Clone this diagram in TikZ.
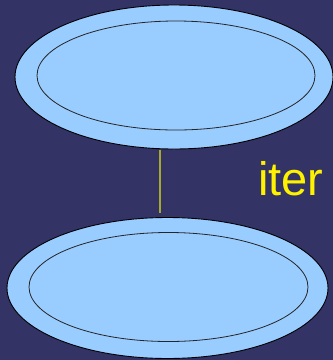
\documentclass[tikz,border=0pt]{standalone}
\usepackage{fontspec}
\setmainfont{Liberation Sans}
\usetikzlibrary{shapes.geometric}
\definecolor{bg}{HTML}{333366}
\definecolor{fillb}{HTML}{99CCFF}
\definecolor{olive}{HTML}{A8A830}
\tikzset{
  outerell/.style={ellipse, draw=black, line width=0.9pt, fill=fillb, inner sep=0pt},
  innerell/.style={ellipse, draw=black!85, line width=0.8pt, inner sep=0pt},
  conn/.style={draw=olive, line width=1.3pt},
  lbl/.style={text=yellow, font=\fontsize{47}{50}\selectfont, inner sep=0pt, anchor=base west}
}
\begin{document}
\begin{tikzpicture}[x=1pt,y=-1pt]
\fill[bg] (0,0) rectangle (333,360);
\useasboundingbox (0,0) rectangle (333,360);
\node[outerell, minimum width=318pt, minimum height=144pt] (top) at (174,77) {};
\node[innerell, minimum width=278pt, minimum height=109pt] (topin) at (176,75.5) {};
\node[outerell, minimum width=321pt, minimum height=141pt] (bot) at (167.5,288) {};
\node[innerell, minimum width=279pt, minimum height=109pt] (botin) at (168.5,287) {};
\coordinate (lx) at (160,0);
\draw[conn, shorten <=0.5pt, shorten >=4pt] (top.south -| lx) -- (bot.north -| lx);
\node[lbl] (iter) at (258,195) {iter};
\end{tikzpicture}
\end{document}
